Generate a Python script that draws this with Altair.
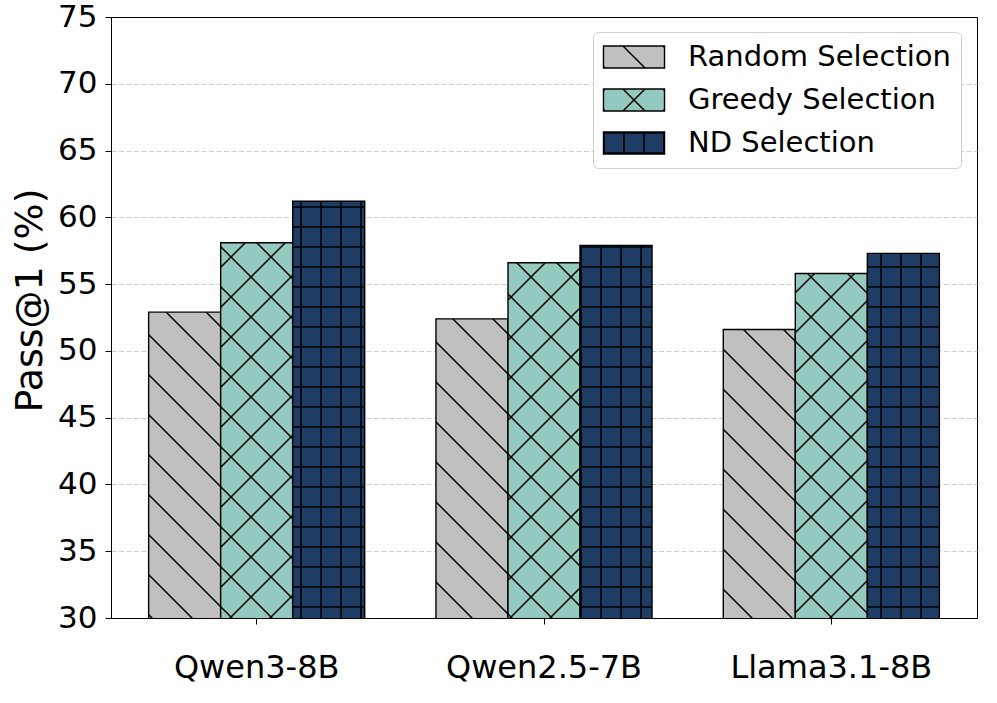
import altair as alt
import pandas as pd
import jinja2

# ---------------- data ----------------
models = ["Qwen3-8B", "Qwen2.5-7B", "Llama3.1-8B"]
methods = ["Random Selection", "Greedy Selection", "ND Selection"]
random_vals = [52.9, 52.4, 51.6]
greedy_vals = [58.1, 56.6, 55.8]
nd_vals = [61.2, 57.9, 57.3]
y_ticks = [30, 35, 40, 45, 50, 55, 60, 65, 70, 75]

# ---------------- styles ----------------
base_colors = ["#c0c0c0", "#94c9c0", "#1f3c65"]
pattern_ids = ["hatchDiag", "hatchCross", "hatchGrid"]
pattern_urls = [f"url(#{p})" for p in pattern_ids]

rows = []
for series, vals in zip(methods, [random_vals, greedy_vals, nd_vals]):
    for m, v in zip(models, vals):
        rows.append({"model": m, "method": series, "value": v})
df = pd.DataFrame(rows)

FONT = "DejaVu Sans"

legend_shape = "M-2.18,-0.786H2.18V0.786H-2.18Z"

chart = alt.Chart(df).mark_bar(stroke="black", strokeWidth=1.4, clip=True).encode(
    x=alt.X(
        "model:N",
        sort=models,
        title=None,
        scale=alt.Scale(paddingInner=0.248, paddingOuter=0.131),
        axis=alt.Axis(
            labelAngle=0,
            labelFontSize=32,
            labelLimit=400,
            labelPadding=28,
            tickSize=6,
            tickColor="black",
            domainColor="black",
            labelColor="black",
            grid=False,
        ),
    ),
    xOffset=alt.XOffset("method:N", sort=methods,
                        scale=alt.Scale(paddingInner=0, paddingOuter=0)),
    y=alt.Y(
        "value:Q",
        title="Pass@1 (%)",
        scale=alt.Scale(domain=[30, 75], nice=False, zero=False),
        axis=alt.Axis(
            values=y_ticks,
            labelFontSize=31,
            labelPadding=8,
            tickSize=6,
            tickColor="black",
            domainColor="black",
            labelColor="black",
            titleFontSize=38,
            titleFontWeight="normal",
            titleColor="black",
            titlePadding=8,
            titleY=283,
            grid=True,
            gridColor="#cfcfcf",
            gridOpacity={"condition": {"test": "datum.value == 30 || datum.value == 75", "value": 0}, "value": 1},
            gridDash=[5, 2.5],
            gridWidth=1,
        ),
    ),
    fill=alt.Fill(
        "method:N",
        sort=methods,
        scale=alt.Scale(domain=methods, range=pattern_urls),
        legend=alt.Legend(
            title=None,
            orient="none",
            legendX=482,
            legendY=15,
            labelFontSize=29,
            labelColor="black",
            labelLimit=500,
            symbolType=legend_shape,
            symbolSize=784,
            symbolStrokeColor="black",
            symbolStrokeWidth=1.4,
            symbolOffset=16,
            labelOffset=39,
            rowPadding=13,
            padding=10,
            fillColor="white",
            strokeColor="#d0d0d0",
            cornerRadius=5,
        ),
    ),
).properties(
    width=866,
    height=601,
    autosize=alt.AutoSizeParams(type="none"),
    padding={"left": 111, "top": 17, "right": 16, "bottom": 80},
).configure(
    font=FONT,
).configure_view(
    stroke="black",
    strokeWidth=1,
).configure_axis(
    labelFont=FONT,
    titleFont=FONT,
).configure_legend(
    labelFont=FONT,
)

# ---------------- page template with SVG hatch patterns ----------------
def pattern_defs():
    c = base_colors
    return f"""
<svg width="0" height="0" style="position:absolute;left:0;top:0">
  <defs>
    <pattern id="{pattern_ids[0]}" patternUnits="userSpaceOnUse" width="40" height="40">
      <rect width="40" height="40" fill="{c[0]}"/>
      <path d="M0,0L40,40M-10,30L10,50M30,-10L50,10" stroke="black" stroke-width="1.5"/>
    </pattern>
    <pattern id="{pattern_ids[1]}" patternUnits="userSpaceOnUse" width="40" height="40">
      <rect width="40" height="40" fill="{c[1]}"/>
      <path d="M0,0L40,40M-10,30L10,50M30,-10L50,10M40,0L0,40M-10,10L10,-10M30,50L50,30" stroke="black" stroke-width="1.5"/>
    </pattern>
    <pattern id="{pattern_ids[2]}" patternUnits="userSpaceOnUse" width="20" height="20">
      <rect width="20" height="20" fill="{c[2]}"/>
      <path d="M0,10H20M10,0V20" stroke="black" stroke-width="1.6"/>
    </pattern>
  </defs>
</svg>"""

TEMPLATE = jinja2.Template("""<!DOCTYPE html>
<html>
<head>
<meta charset="utf-8">
<style>body { margin: 0; }</style>
<script type="text/javascript" src="{{ base_url }}/vega@{{ vega_version }}"></script>
<script type="text/javascript" src="{{ base_url }}/vega-lite@{{ vegalite_version }}"></script>
<script type="text/javascript" src="{{ base_url }}/vega-embed@{{ vegaembed_version }}"></script>
</head>
<body>
""" + pattern_defs() + """
<div id="{{ output_div }}"></div>
<script type="text/javascript">
  var spec = {{ spec }};
  var embedOpt = {{ embed_options }};
  vegaEmbed("#{{ output_div }}", spec, embedOpt).catch(function (e) {
    document.getElementById("{{ output_div }}").innerHTML = '<p style="color:red">' + e.message + '</p>';
  });
</script>
</body>
</html>
""")

chart.save("out.html", embed_options={"renderer": "svg", "actions": False}, template=TEMPLATE)
